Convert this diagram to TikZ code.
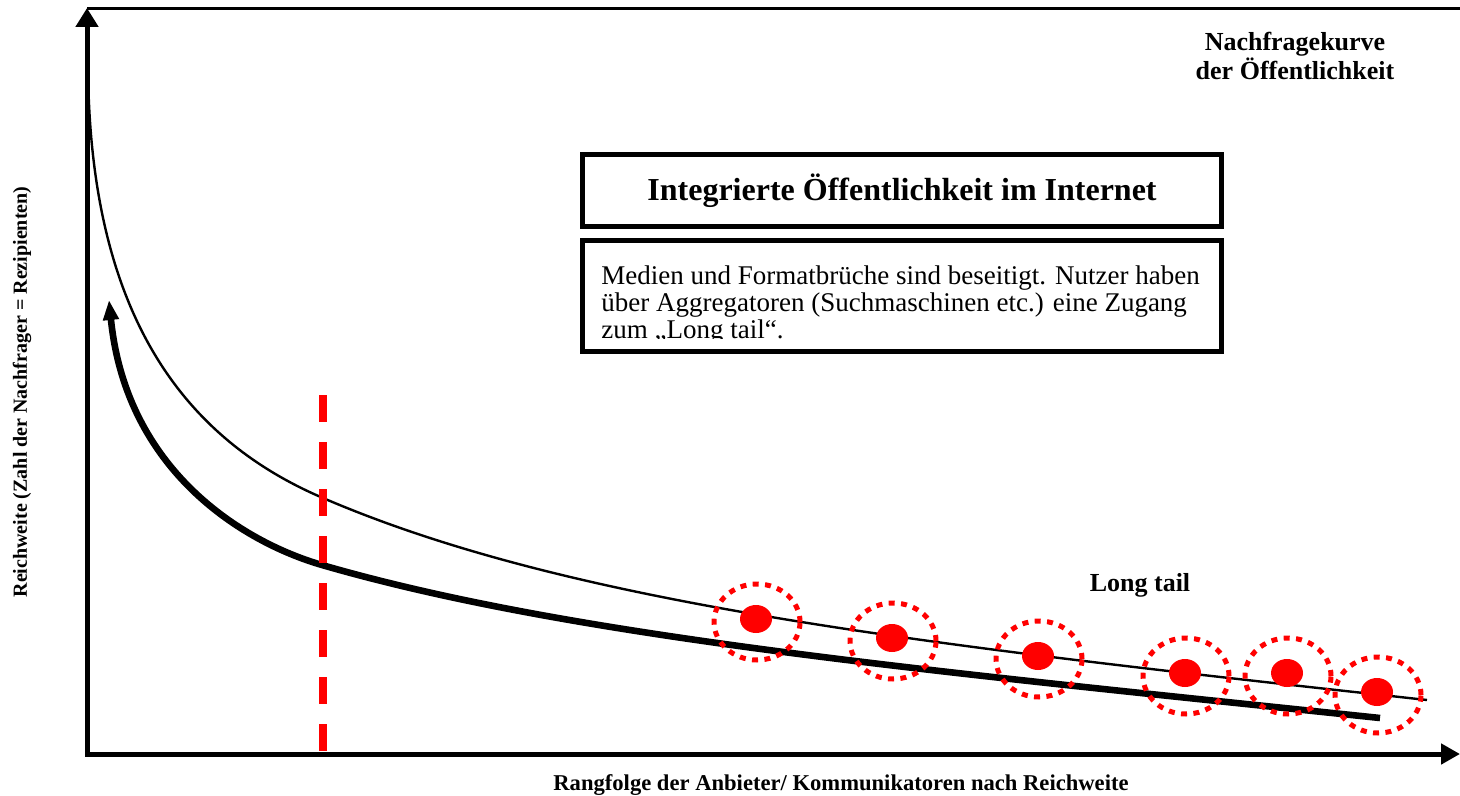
\documentclass[tikz,border=0pt]{standalone}
\usepackage{fontspec}
\setmainfont{Liberation Serif}
\usetikzlibrary{arrows.meta}
\definecolor{pured}{RGB}{255,0,0}
\tikzset{
  axis/.style={line width=2.5pt, line join=miter},
  frame/.style={draw, line width=2.5pt},
  dot/.style={fill=pured},
  ring/.style={draw=pured, line width=2.5pt, dash pattern=on 3pt off 3.2pt},
  lbl/.style={font=\bfseries, inner sep=0pt}
}
\begin{document}
\begin{tikzpicture}[x=0.5pt,y=-0.5pt]
\useasboundingbox (0,0) rectangle (1460,796);
\fill[white] (0,0) rectangle (1460,796);
% top border line
\coordinate (tl) at (87,8.5);
\coordinate (tr) at (1460,8.5);
\draw[line width=1.2pt] (tl) -- (tr);
% axes
\coordinate (ytop) at (87,8);
\coordinate (orig) at (87,754);
\coordinate (xend) at (1460,754);
\draw[axis,{Triangle[length=9.5pt,width=11pt]}-{Triangle[length=9.5pt,width=10pt]}] (ytop) -- (orig) -- (xend);
% demand curve (thin)
\coordinate (d0) at (88,60);
\coordinate (d1) at (323,498);
\coordinate (d2) at (1427,700);
\draw[line width=1.2pt] (d0) .. controls (88,300) and (173,434) .. (d1)
                             .. controls (573,605.5) and (927,645) .. (d2);
% thick curve with arrow
\coordinate (t0) at (1380,718);
\coordinate (t1) at (322,565);
\coordinate (t2) at (109,300);
\draw[line width=3.3pt,-{Triangle[length=10pt,width=7.5pt]}]
  (t0) .. controls (930,670.8) and (572,637.5) .. (t1)
       .. controls (242,541.8) and (126,470) .. (t2);
% red dashed cut line
\coordinate (ca) at (323,395);
\coordinate (cb) at (323,751);
\draw[pured, line width=4pt, dash pattern=on 13.5pt off 10pt] (ca) -- (cb);
% dots
\foreach \n/\x/\y in {1/756/619, 2/892/638, 3/1038/656, 4/1185/673, 5/1287/673, 6/1377/692}{
  \fill[dot] (\x,\y) ellipse [x radius=8pt, y radius=7pt];
  \draw[ring] (\x+1,\y+3) ellipse [x radius=21.5pt, y radius=19pt];
}
% boxes
\node[frame, minimum width=319.5pt, minimum height=36pt, inner sep=0pt,
      font=\bfseries\fontsize{16}{19}\selectfont] (title) at (902,190.5)
      {Integrierte Öffentlichkeit im Internet};
\begin{scope}
  \clip (584,243) rectangle (1220,339);
  \node[anchor=north west, inner sep=0pt, align=left,
        font=\fontsize{13.5}{13.5}\selectfont] (desc) at (601,265.5)
        {Medien und Formatbrüche sind beseitigt. Nutzer haben\\
         über Aggregatoren (Suchmaschinen etc.) eine Zugang\\
         zum „Long tail“.};
\end{scope}
\draw[line width=2.5pt] (582.5,240.5) rectangle (1221.5,351.5);
% labels
\node[lbl, align=center, font=\bfseries\fontsize{13}{12.5}\selectfont] (nk) at (1295,56) {Nachfragekurve\\der Öffentlichkeit};
\node[lbl, font=\bfseries\fontsize{13}{15}\selectfont] (lt) at (1140,585) {Long tail};
\node[lbl, font=\bfseries\fontsize{11.3}{13}\selectfont] (xl) at (841,785) {Rangfolge der Anbieter/ Kommunikatoren nach Reichweite};
\node[lbl, rotate=90, font=\bfseries\fontsize{10}{12}\selectfont] (yl) at (22,392) {Reichweite (Zahl der Nachfrager = Rezipienten)};
\end{tikzpicture}
\end{document}
